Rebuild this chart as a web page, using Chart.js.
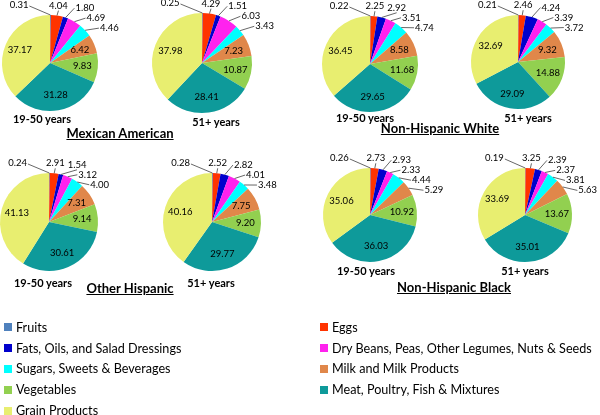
<!DOCTYPE html>
<html>
<head>
<meta charset="utf-8">
<script src="https://cdn.jsdelivr.net/npm/chart.js@4"></script>
<style>
  body { margin: 0; width: 600px; height: 415px; background: #fff; position: relative; overflow: hidden; font-family: Lato, "Open Sans", sans-serif; color: #000; }
  canvas { position: absolute; }
  .lbl { position: absolute; transform: translate(-50%, -50%); white-space: nowrap; font-weight: bold; }
  .age { font-size: 11px; }
  .group { font-size: 13px; text-decoration: underline; }
  .legend { position: absolute; font-size: 12.6px; }
  .legend div { height: 20.8px; display: flex; align-items: center; white-space: nowrap; }
  .legend .sw { width: 8px; height: 8px; margin-right: 4px; flex: none; }
</style>
</head>
<body>
<script>
// food groups, in slice order (clockwise from 12 o'clock)
const categories = [
  "Fruits",
  "Eggs",
  "Fats, Oils, and Salad Dressings",
  "Dry Beans, Peas, Other Legumes, Nuts & Seeds",
  "Sugars, Sweets & Beverages",
  "Milk and Milk Products",
  "Vegetables",
  "Meat, Poultry, Fish & Mixtures",
  "Grain Products",
];
const ageGroups = ["19-50 years", "51+ years"];
const ethnicGroups = ["Mexican American", "Non-Hispanic White", "Other Hispanic", "Non-Hispanic Black"];

const mexican1950 = [0.31, 4.04, 1.80, 4.69, 4.46, 6.42, 9.83, 31.28, 37.17];
const mexican51 = [0.25, 4.29, 1.51, 6.03, 3.43, 7.23, 10.87, 28.41, 37.98];
const white1950 = [0.22, 2.25, 2.92, 3.51, 4.74, 8.58, 11.68, 29.65, 36.45];
const white51 = [0.21, 2.46, 4.24, 3.39, 3.72, 9.32, 14.88, 29.09, 32.69];
const otherHisp1950 = [0.24, 2.91, 1.54, 3.12, 4.00, 7.31, 9.14, 30.61, 41.13];
const otherHisp51 = [0.28, 2.52, 2.82, 4.01, 3.48, 7.75, 9.20, 29.77, 40.16];
const black1950 = [0.26, 2.73, 2.93, 2.33, 4.44, 5.29, 10.92, 36.03, 35.06];
const black51 = [0.19, 3.25, 2.39, 2.37, 3.81, 5.63, 13.67, 35.01, 33.69];

const colors = ["#4f81bd", "#ff3300", "#0000cc", "#ff22ee", "#00ffff", "#e0874a", "#92d050", "#0e9a9a", "#e8ee70"];

// where each pie sits on the page
const pies = [
  { data: mexican1950, age: 0, cx: 50, cy: 63, r: 48, ax: 42, ay: 118 },
  { data: mexican51, age: 1, cx: 202, cy: 63, r: 50, ax: 216, ay: 121 },
  { data: white1950, age: 0, cx: 370, cy: 64, r: 48, ax: 365, ay: 117 },
  { data: white51, age: 1, cx: 518, cy: 62, r: 47, ax: 528, ay: 117 },
  { data: otherHisp1950, age: 0, cx: 49, cy: 222, r: 49, ax: 43, ay: 282 },
  { data: otherHisp51, age: 1, cx: 212, cy: 222, r: 49, ax: 211, ay: 282 },
  { data: black1950, age: 0, cx: 370, cy: 215, r: 47, ax: 366, ay: 270 },
  { data: black51, age: 1, cx: 525, cy: 215, r: 47, ax: 525, ay: 270 },
];
const groupTitles = [
  { x: 120, y: 133 },
  { x: 440, y: 128 },
  { x: 130, y: 288 },
  { x: 454, y: 287 },
];

const INSIDE_MIN = 6.2;
const PAD = 24;

const valueLabels = {
  id: "valueLabels",
  afterDatasetsDraw(chart) {
    const ctx = chart.ctx;
    const values = chart.data.datasets[0].data;
    const arcs = chart.getDatasetMeta(0).data;
    ctx.save();
    ctx.font = "9.5px Lato";
    ctx.fillStyle = "#000";
    ctx.strokeStyle = "#404040";
    ctx.lineWidth = 0.8;
    let prev = null;
    arcs.forEach((arc, i) => {
      const { x, y, startAngle, endAngle, outerRadius: r } = arc.getProps(["x", "y", "startAngle", "endAngle", "outerRadius"], true);
      const mid = (startAngle + endAngle) / 2;
      const cos = Math.cos(mid);
      const sin = Math.sin(mid);
      const text = values[i].toFixed(2);
      const tw = ctx.measureText(text).width;
      ctx.textBaseline = "middle";
      if (values[i] >= INSIDE_MIN) {
        ctx.textAlign = "center";
        ctx.fillText(text, x + cos * r * 0.68, y + sin * r * 0.68);
        return;
      }
      const px = x + cos * r;
      const py = y + sin * r;
      ctx.beginPath();
      if (i === 0) {
        // the tiny first slice gets its label pulled to the upper left
        const lx = x - r * 0.45;
        const ly = y - r - 10;
        ctx.textAlign = "right";
        ctx.moveTo(lx + 1, ly + 1);
        ctx.lineTo(px, py);
        ctx.stroke();
        ctx.fillText(text, lx, ly);
        return;
      }
      const nearTop = mid < -Math.PI / 2 + 0.25;
      let ly = y + sin * (r + 10);
      // left edge of the label box
      let left = nearTop ? x + cos * (r + 10) - tw / 2 : x + cos * (r + 12) + 6;
      if (prev && Math.abs(ly - prev.y) < 10 && left < prev.right + 3) {
        if (nearTop) left = prev.right + 3;
        else ly = prev.y + 10;
      }
      if (nearTop) {
        ctx.moveTo(left + tw / 2, ly + 5);
      } else {
        ctx.moveTo(left - 1, ly);
      }
      ctx.lineTo(px, py);
      ctx.stroke();
      ctx.textAlign = "left";
      ctx.fillText(text, left, ly);
      prev = { y: ly, right: left + tw };
    });
    ctx.restore();
  },
};

pies.forEach((pie) => {
  const canvas = document.createElement("canvas");
  const w = 176;
  const h = pie.r * 2 + PAD * 2;
  canvas.width = w;
  canvas.height = h;
  canvas.style.left = pie.cx - w / 2 + "px";
  canvas.style.top = pie.cy - pie.r - PAD + "px";
  document.body.appendChild(canvas);

  const side = w / 2 - pie.r;
  new Chart(canvas, {
    type: "pie",
    data: {
      labels: categories,
      datasets: [
        {
          data: pie.data,
          backgroundColor: colors,
          borderWidth: 0,
          hoverOffset: 0,
        },
      ],
    },
    options: {
      responsive: false,
      animation: false,
      layout: { padding: { left: side, right: side, top: PAD, bottom: PAD } },
      plugins: {
        legend: { display: false },
        tooltip: { enabled: false },
      },
    },
    plugins: [valueLabels],
  });

  const age = document.createElement("div");
  age.className = "lbl age";
  age.textContent = ageGroups[pie.age];
  age.style.left = pie.ax + "px";
  age.style.top = pie.ay + "px";
  document.body.appendChild(age);
});

groupTitles.forEach((pos, i) => {
  const el = document.createElement("div");
  el.className = "lbl group";
  el.textContent = ethnicGroups[i];
  el.style.left = pos.x + "px";
  el.style.top = pos.y + "px";
  document.body.appendChild(el);
});

// legend: two columns, left takes the even items
const legendCols = [
  { left: 4, top: 317, items: [0, 2, 4, 6, 8] },
  { left: 320, top: 317, items: [1, 3, 5, 7] },
];
legendCols.forEach((col) => {
  const box = document.createElement("div");
  box.className = "legend";
  box.style.left = col.left + "px";
  box.style.top = col.top + "px";
  col.items.forEach((idx) => {
    const row = document.createElement("div");
    const sw = document.createElement("span");
    sw.className = "sw";
    sw.style.background = colors[idx];
    row.appendChild(sw);
    row.appendChild(document.createTextNode(categories[idx]));
    box.appendChild(row);
  });
  document.body.appendChild(box);
});
</script>
</body>
</html>
